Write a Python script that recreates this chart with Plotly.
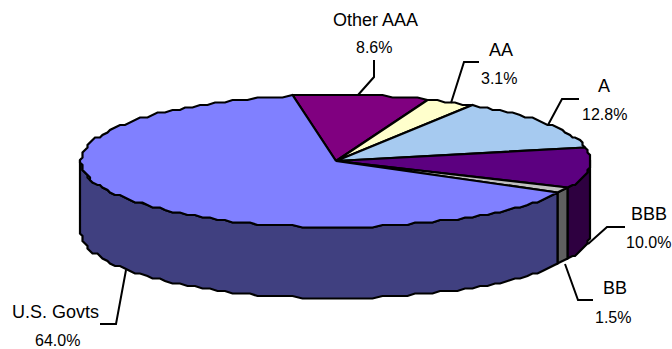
import math
import plotly.graph_objects as go

# Credit-quality breakdown, in percent
categories = ["Other AAA", "AA", "A", "BBB", "BB", "U.S. Govts"]
shares = [8.6, 3.1, 12.8, 10.0, 1.5, 64.0]
top_colors = ["#800080", "#FFFFCC", "#A6CAF0", "#5C0080", "#C0C0C0", "#8080FF"]
wall_colors = ["#400040", "#808066", "#536578", "#2E0040", "#606060", "#404080"]

# Pie geometry in pixel units of the hidden axes
CX, CY, RX, RY, DEPTH = 336, 161, 255, 66, 71
START = -10.0
STEP = 2.0
SNAP = 2.5  # the rim is snapped to a coarse grid, which gives its stepped outline

label_pos = [(375, 20), (501, 50), (604, 86), (649, 214), (615, 288), (55, 312)]
label_pct_pos = [(374, 47), (499, 78), (604, 114), (648, 242), (613, 317), (57, 340)]
leaders = [
    ([358, 374, 374], [95, 77, 60]),
    ([451, 464, 479], [103, 62, 62]),
    ([548, 562, 579], [125, 99, 99]),
    ([588, 607, 625], [244, 227, 227]),
    ([565, 578, 593], [264, 300, 300]),
    ([126, 116, 100], [270, 324, 324]),
]


def rim(deg, drop=0):
    a = math.radians(deg)
    x = CX + RX * math.sin(a)
    y = CY - RY * math.cos(a)
    return round(x / SNAP) * SNAP, round(y / SNAP) * SNAP + drop


def arc(a0, a1, drop=0):
    n = max(1, int(abs(a1 - a0) / STEP))
    return [rim(a0 + (a1 - a0) * i / n, drop) for i in range(n + 1)]


def add_poly(fig, pts, fill):
    xs = [p[0] for p in pts] + [pts[0][0]]
    ys = [p[1] for p in pts] + [pts[0][1]]
    fig.add_trace(go.Scatter(x=xs, y=ys, mode="lines", fill="toself", fillcolor=fill,
                             line=dict(color="black", width=2.2), hoverinfo="skip"))


fig = go.Figure()

edges = [START]
for s in shares:
    edges.append(edges[-1] + s * 3.6)

# Side wall: only the front half of the rim (90 to 270 degrees) is visible
for i in range(len(shares)):
    a0, a1 = max(edges[i], 90), min(edges[i + 1], 270)
    if a1 > a0:
        add_poly(fig, arc(a0, a1) + arc(a1, a0, DEPTH), wall_colors[i])

# Top face
for i in range(len(shares)):
    add_poly(fig, [(CX, CY)] + arc(edges[i], edges[i + 1]), top_colors[i])

for xs, ys in leaders:
    fig.add_trace(go.Scatter(x=xs, y=ys, mode="lines", line=dict(color="black", width=2),
                             hoverinfo="skip"))

for name, share, p, q in zip(categories, shares, label_pos, label_pct_pos):
    fig.add_annotation(x=p[0], y=p[1], text=name, showarrow=False,
                       font=dict(family="Liberation Sans", size=18, color="black"))
    fig.add_annotation(x=q[0], y=q[1], text=f"{share:.1f}%", showarrow=False,
                       font=dict(family="Liberation Sans", size=16, color="black"))

fig.update_layout(
    width=672, height=349, margin=dict(l=0, r=0, t=0, b=0), showlegend=False,
    paper_bgcolor="white", plot_bgcolor="white",
    xaxis=dict(range=[0, 672], visible=False, fixedrange=True),
    yaxis=dict(range=[349, 0], visible=False, fixedrange=True),
)
fig.write_html("out.html", config=dict(displayModeBar=False))
